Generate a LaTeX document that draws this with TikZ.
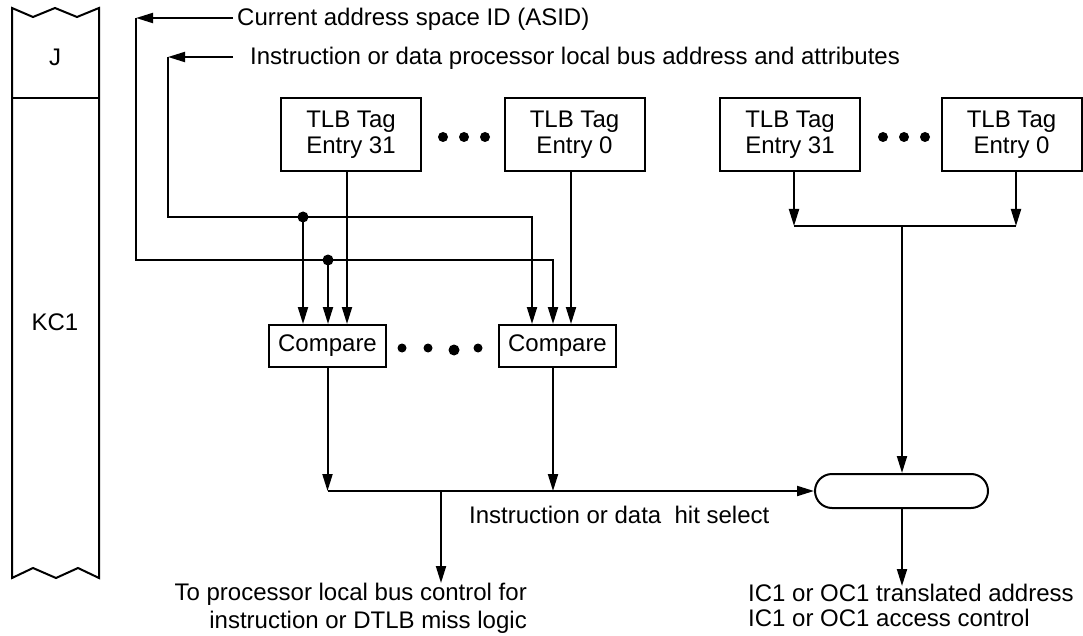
\documentclass[tikz,border=0pt]{standalone}
\usepackage{fontspec}
\setmainfont{Liberation Sans}
\usetikzlibrary{arrows.meta}
\begin{document}
\begin{tikzpicture}[x=1pt,y=-1pt,
  every node/.style={font=\fontsize{24}{26}\selectfont},
  ln/.style={line width=2pt},
  arr/.style={line width=2pt,-{Triangle[length=17pt,width=10pt]}},
  tlbbox/.style={draw,line width=2pt,minimum width=140pt,minimum height=73pt,align=center,inner sep=0pt},
  cmpbox/.style={draw,line width=2pt,minimum width=117pt,minimum height=42pt,inner sep=0pt},
  dotn/.style={circle,fill,inner sep=0pt,minimum size=10pt},
  jdot/.style={circle,fill,inner sep=0pt,minimum size=11pt},
  lbl/.style={inner sep=0pt,anchor=west}]
\fill[white] (0,0) rectangle (1083,636);
\useasboundingbox (0,0) rectangle (1083,636);

% left column
\draw[ln,line join=miter] (12,8) -- (12,578) -- (33,568) -- (56,578) -- (78,568) -- (99,578)
  -- (99,8) -- (77,17) -- (55,8) -- (33,17) -- cycle;
\draw[ln] (12,98) -- (99,98);
\node (J) at (55,57) {J};
\node (KC) at (55,322) {KC1};

% top labels
\node[lbl] (asid) at (237,19) {Current address space ID (ASID)};
\node[lbl] (instr) at (250,58) {Instruction or data processor local bus address and attributes};
\coordinate (aS) at (233,18);
\coordinate (iS) at (233,57);
\coordinate (aC) at (136,18);
\coordinate (iC) at (168,57);
\draw[arr] (aS) -- (aC);
\draw[arr] (iS) -- (iC);

% TLB boxes
\node[tlbbox] (t31) at (351,134.5) {TLB Tag\\Entry 31};
\node[tlbbox] (t0) at (574.5,134.5) {TLB Tag\\Entry 0};
\node[tlbbox] (r31) at (790,134.5) {TLB Tag\\Entry 31};
\node[tlbbox] (r0) at (1011.5,134.5) {TLB Tag\\Entry 0};
\node[dotn] (da1) at (443,137) {};
\node[dotn] (da2) at (464,137) {};
\node[dotn] (da3) at (485,137) {};
\node[dotn] (db1) at (883,137) {};
\node[dotn] (db2) at (904,137) {};
\node[dotn] (db3) at (925,137) {};

% compare boxes
\node[cmpbox] (c1) at (327.5,346) {Compare};
\node[cmpbox] (c2) at (557.5,346) {Compare};
\node[dotn,minimum size=9pt] (dc1) at (402,348) {};
\node[dotn,minimum size=9pt] (dc2) at (428,348) {};
\node[dotn,minimum size=11pt] (dc3) at (454,350) {};
\node[dotn,minimum size=9pt] (dc4) at (478,348) {};

% bus lines
\coordinate (iJ) at (303,217);
\coordinate (aJ) at (328,260);
\draw[ln] (iC) |- (iJ);
\draw[arr] (iJ) -| ([xshift=-25.5pt]c2.north);
\draw[ln] (aC) |- (aJ);
\draw[arr] (aJ) -| ([xshift=-4.5pt]c2.north);
\draw[arr] (iJ) -- (iJ |- c1.north);
\draw[arr] (aJ) -- (aJ |- c1.north);
\draw[arr] ([xshift=-4pt]t31.south) -- ([xshift=-4pt]t31.south |- c1.north);
\draw[arr] ([xshift=-3.5pt]t0.south) -- ([xshift=-3.5pt]t0.south |- c2.north);
\node[jdot] (jd1) at (iJ) {};
\node[jdot] (jd2) at (aJ) {};

% right group
\coordinate (m) at (902,226);
\node[draw,line width=2pt,rounded corners=17pt,minimum width=173pt,minimum height=34pt,inner sep=0pt] (ov) at (901.5,491) {};
\draw[arr] ([xshift=4pt]r31.south) -- ([xshift=4pt]r31.south |- m);
\draw[arr] ([xshift=4.5pt]r0.south) -- ([xshift=4.5pt]r0.south |- m);
\draw[ln] ([xshift=4pt]r31.south |- m) -- ([xshift=4.5pt]r0.south |- m);
\draw[arr] (m) -- (m |- ov.north);

% hit select
\coordinate (hl) at (441,491);
\draw[arr] (c1.south) -- (c1.south |- hl);
\draw[arr] ([xshift=-4.5pt]c2.south) -- ([xshift=-4.5pt]c2.south |- hl);
\draw[arr] (c1.south |- hl) -- (ov.west);
\node[lbl] (hs) at (469,515) {Instruction or data\ \ hit select};

% bottom outputs
\node[align=right,anchor=north east,inner sep=0pt,font=\fontsize{24}{28}\selectfont] (tp) at (527,583)
  {To processor local bus control for\\instruction or DTLB miss logic};
\draw[arr] (hl) -- (hl |- tp.north);
\node[align=left,anchor=north west,inner sep=0pt,font=\fontsize{24}{25}\selectfont] (out) at (748,584)
  {IC1 or OC1 translated address\\IC1 or OC1 access control};
\draw[arr] (ov.south -| m) -- ([yshift=-2pt]out.north -| m);
\end{tikzpicture}
\end{document}
